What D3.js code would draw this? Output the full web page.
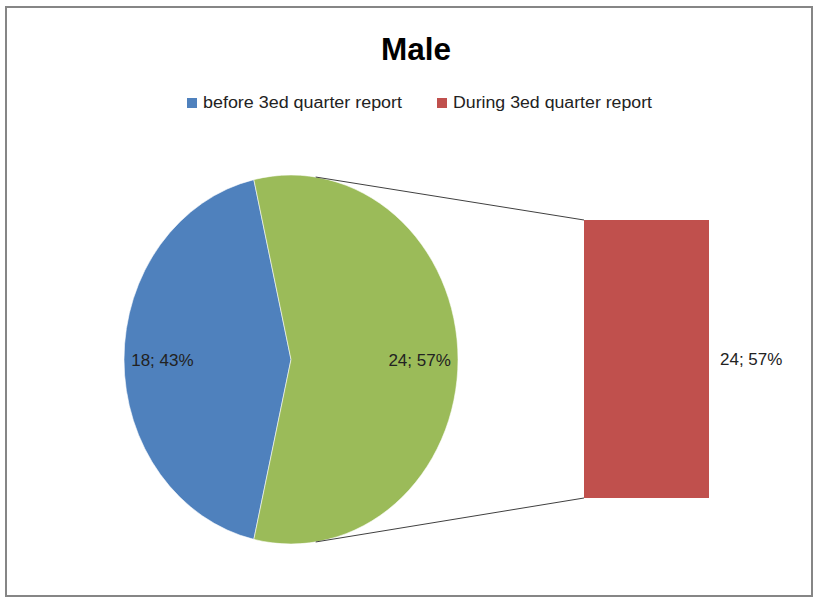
<!DOCTYPE html>
<html>
<meta charset="utf-8">
<script src="https://d3js.org/d3.v7.min.js"></script>
<style>
  body { margin: 0; background: #fff; }
  text { font-family: "Liberation Sans", Arial, sans-serif; }
</style>
<body>
<script>

// chart data
var title = "Male";
var categories = ["before 3ed quarter report", "During 3ed quarter report"];
var values = [18, 24];
var percents = ["43%", "57%"];
var colors = ["#4F81BD", "#C0504D"];
var otherColor = "#9BBB59";   // the "other" slice that is split out into the bar

var width = 814, height = 604;
var total = d3.sum(values);

var svg = d3.select("body").append("svg")
  .attr("width", width)
  .attr("height", height);

// outer frame
svg.append("rect")
  .attr("x", 6).attr("y", 7)
  .attr("width", 806).attr("height", 589)
  .style("fill", "none")
  .style("stroke", "#868686")
  .style("stroke-width", 2);

// title
svg.append("text")
  .attr("x", 416).attr("y", 60)
  .attr("text-anchor", "middle")
  .style("font-size", "32px")
  .style("font-weight", "bold")
  .attr("textLength", 70)
  .attr("lengthAdjust", "spacingAndGlyphs")
  .text(title);

// legend
var legendX = [187, 437];
var legend = svg.append("g").selectAll("g")
  .data(categories)
  .enter().append("g")
  .attr("transform", function(d, i) { return "translate(" + legendX[i] + ",98)"; });

legend.append("rect")
  .attr("width", 10).attr("height", 10)
  .style("fill", function(d, i) { return colors[i]; });

legend.append("text")
  .attr("x", 16).attr("y", 10)
  .style("font-size", "16px")
  .style("fill", "#222")
  .attr("textLength", 199)
  .attr("lengthAdjust", "spacingAndGlyphs")
  .text(function(d) { return d; });

// pie (slightly elliptical, as in the original)
var cx = 291, cy = 359.5, rx = 167, ry = 184.5;

var pieData = [
  { name: categories[0], value: values[0], pct: percents[0], color: colors[0] },
  { name: "Other", value: values[1], pct: percents[1], color: otherColor }
];

var blueSpan = values[0] / total * 2 * Math.PI;
var pie = d3.pie()
  .sort(null)
  .value(function(d) { return d.value; })
  .startAngle(1.5 * Math.PI - blueSpan / 2)
  .endAngle(1.5 * Math.PI - blueSpan / 2 + 2 * Math.PI);

var arc = d3.arc().innerRadius(0).outerRadius(ry);

var pieG = svg.append("g")
  .attr("transform", "translate(" + cx + "," + cy + ") scale(" + (rx / ry) + ",1)");

pieG.selectAll("path")
  .data(pie(pieData))
  .enter().append("path")
  .attr("d", arc)
  .style("fill", function(d) { return d.data.color; })
  .style("stroke", "#fff")
  .style("stroke-width", 0.6);

// slice labels
svg.append("g").selectAll("text")
  .data(pie(pieData))
  .enter().append("text")
  .attr("x", function(d) {
    var a = (d.startAngle + d.endAngle) / 2;
    return cx + Math.sin(a) * rx * 0.77;
  })
  .attr("y", function(d) {
    var a = (d.startAngle + d.endAngle) / 2;
    return cy - Math.cos(a) * ry * 0.77 + 6;
  })
  .attr("text-anchor", "middle")
  .style("font-size", "17px")
  .style("fill", "#222")
  .text(function(d) { return d.data.value + "; " + d.data.pct; });

// secondary bar
var barX = d3.scaleBand().domain(["bar"]).range([584, 709]).padding(0);
var barY = d3.scaleLinear().domain([0, values[1]]).range([498, 220]);

svg.append("rect")
  .attr("x", barX("bar"))
  .attr("y", barY(values[1]))
  .attr("width", barX.bandwidth())
  .attr("height", barY(0) - barY(values[1]))
  .style("fill", colors[1]);

svg.append("text")
  .attr("x", barX("bar") + barX.bandwidth() + 11)
  .attr("y", (barY(0) + barY(values[1])) / 2 + 6)
  .style("font-size", "17px")
  .style("fill", "#222")
  .text(values[1] + "; " + percents[1]);

// series lines joining the pie to the bar
var joinAngle = 8.5 * Math.PI / 180;
var lines = [
  [cx + Math.sin(joinAngle) * rx, cy - Math.cos(joinAngle) * ry, barX("bar"), barY(values[1])],
  [cx + Math.sin(joinAngle) * rx, cy + Math.cos(joinAngle) * ry, barX("bar"), barY(0)]
];
svg.append("g").selectAll("line")
  .data(lines)
  .enter().append("line")
  .attr("x1", function(d) { return d[0]; })
  .attr("y1", function(d) { return d[1]; })
  .attr("x2", function(d) { return d[2]; })
  .attr("y2", function(d) { return d[3]; })
  .style("stroke", "#404040")
  .style("stroke-width", 1);

</script>
</body>
</html>
